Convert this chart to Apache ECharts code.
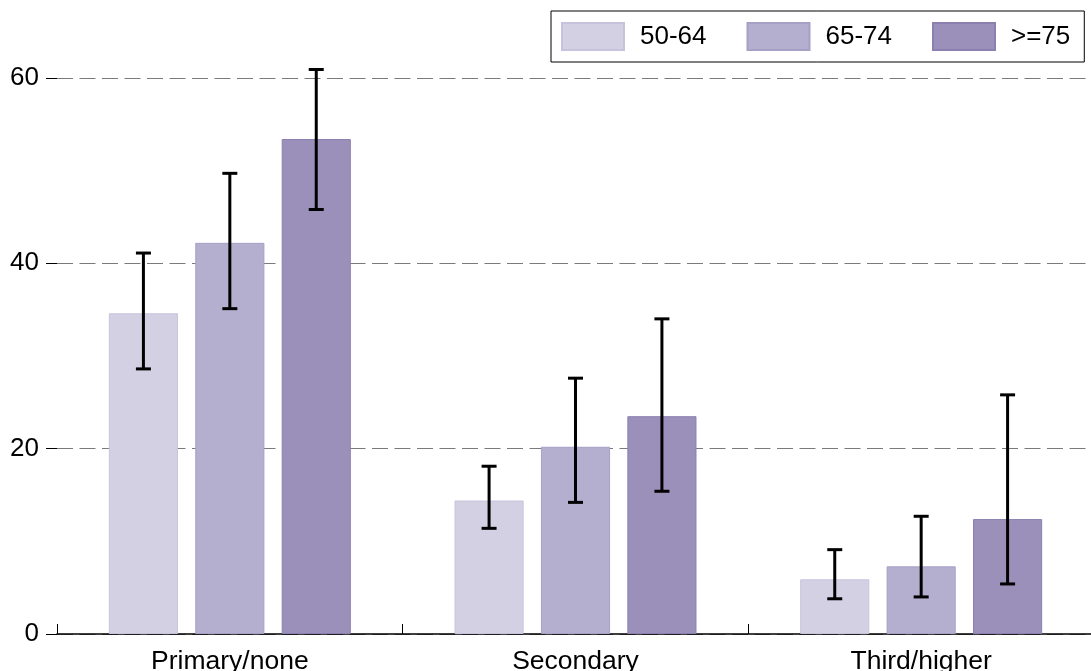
<!DOCTYPE html>
<html>
<head>
<meta charset="utf-8">
<script src="https://cdn.jsdelivr.net/npm/echarts@6/dist/echarts.min.js"></script>
<style>
html,body{margin:0;padding:0;background:#fff;}
#chart{width:1091px;height:671px;}
</style>
</head>
<body>
<div id="chart"></div>
<script>
const categories = ['Primary/none', 'Secondary', 'Third/higher'];
const seriesNames = ['50-64', '65-74', '>=75'];
const values_50_64 = [34.6, 14.4, 5.9];
const values_65_74 = [42.2, 20.2, 7.3];
const values_75 = [53.4, 23.5, 12.4];
const low_50_64 = [28.6, 11.4, 3.8];
const high_50_64 = [41.1, 18.1, 9.1];
const low_65_74 = [35.1, 14.2, 4.0];
const high_65_74 = [49.7, 27.6, 12.7];
const low_75 = [45.8, 15.4, 5.4];
const high_75 = [60.9, 34.0, 25.8];
const yTicks = [0, 20, 40, 60];

const fills = ['#d4d0e3', '#b5afcf', '#9b90ba'];
const borders = ['#c8c3dc', '#a89fc6', '#8b80b0'];
const values = [values_50_64, values_65_74, values_75];
const lows = [low_50_64, low_65_74, low_75];
const highs = [high_50_64, high_65_74, high_75];

const BAR_FRAC = 0.2;
const GAP_FRAC = 0.25;
const FONT = '"Liberation Sans", Arial, sans-serif';

const chart = echarts.init(document.getElementById('chart'));

const series = [];
seriesNames.forEach((name, i) => {
  series.push({
    name: name,
    type: 'bar',
    data: values[i],
    barWidth: (BAR_FRAC * 100) + '%',
    barGap: (GAP_FRAC * 100) + '%',
    itemStyle: { color: fills[i], borderColor: borders[i], borderWidth: 1 },
    emphasis: { disabled: true },
    z: 2
  });
});
seriesNames.forEach((name, i) => {
  series.push({
    name: 'err ' + name,
    type: 'custom',
    data: categories.map((c, k) => [k, lows[i][k], highs[i][k]]),
    encode: { x: 0, y: [1, 2] },
    z: 5,
    renderItem: function (params, api) {
      const k = api.value(0);
      const catW = api.size([1, 0])[0];
      const bw = catW * BAR_FRAC;
      const off = (i - 1) * bw * (1 + GAP_FRAC);
      const x = api.coord([k, 0])[0] + off;
      const yLo = api.coord([k, api.value(1)])[1];
      const yHi = api.coord([k, api.value(2)])[1];
      const hw = 7.5;
      const st = { stroke: '#000', lineWidth: 3 };
      return {
        type: 'group',
        children: [
          { type: 'line', shape: { x1: x, y1: yLo, x2: x, y2: yHi }, style: st },
          { type: 'line', shape: { x1: x - hw, y1: yHi, x2: x + hw, y2: yHi }, style: st },
          { type: 'line', shape: { x1: x - hw, y1: yLo, x2: x + hw, y2: yLo }, style: st }
        ]
      };
    }
  });
});

chart.setOption({
  animation: false,
  backgroundColor: '#fff',
  textStyle: { fontFamily: FONT },
  grid: { left: 57, right: -3, top: 0, bottom: 37, containLabel: false, outerBoundsMode: 'none' },
  legend: {
    data: seriesNames.map(n => ({ name: n, icon: 'rect' })),
    left: 551,
    top: 11,
    orient: 'horizontal',
    itemWidth: 62,
    itemHeight: 27,
    itemGap: 40,
    padding: [11, 14, 11, 10],
    borderColor: '#000',
    borderWidth: 1,
    backgroundColor: '#fff',
    selectedMode: false,
    textStyle: { fontSize: 26, color: '#000', fontFamily: FONT, padding: [0, 0, 0, 11], lineHeight: 27 }
  },
  xAxis: {
    type: 'category',
    data: categories,
    axisLine: { show: true, lineStyle: { color: '#000', width: 1.5 } },
    axisTick: { show: true, inside: true, length: 10, lineStyle: { color: '#000', width: 1 } },
    axisLabel: { fontSize: 26.5, color: '#000', margin: 14, fontFamily: FONT },
    splitLine: { show: false }
  },
  yAxis: {
    type: 'value',
    min: 0,
    max: 68.4,
    interval: 20,
    axisLine: { show: false },
    axisTick: { show: true, inside: false, length: 11, lineStyle: { color: '#000', width: 1 }, customValues: yTicks },
    axisLabel: { fontSize: 26, color: '#000', margin: 18, fontFamily: FONT, customValues: yTicks },
    splitLine: { show: true, lineStyle: { color: '#7a7a7a', type: [16, 6.5], width: 1 } }
  },
  series: series
});
</script>
</body>
</html>
